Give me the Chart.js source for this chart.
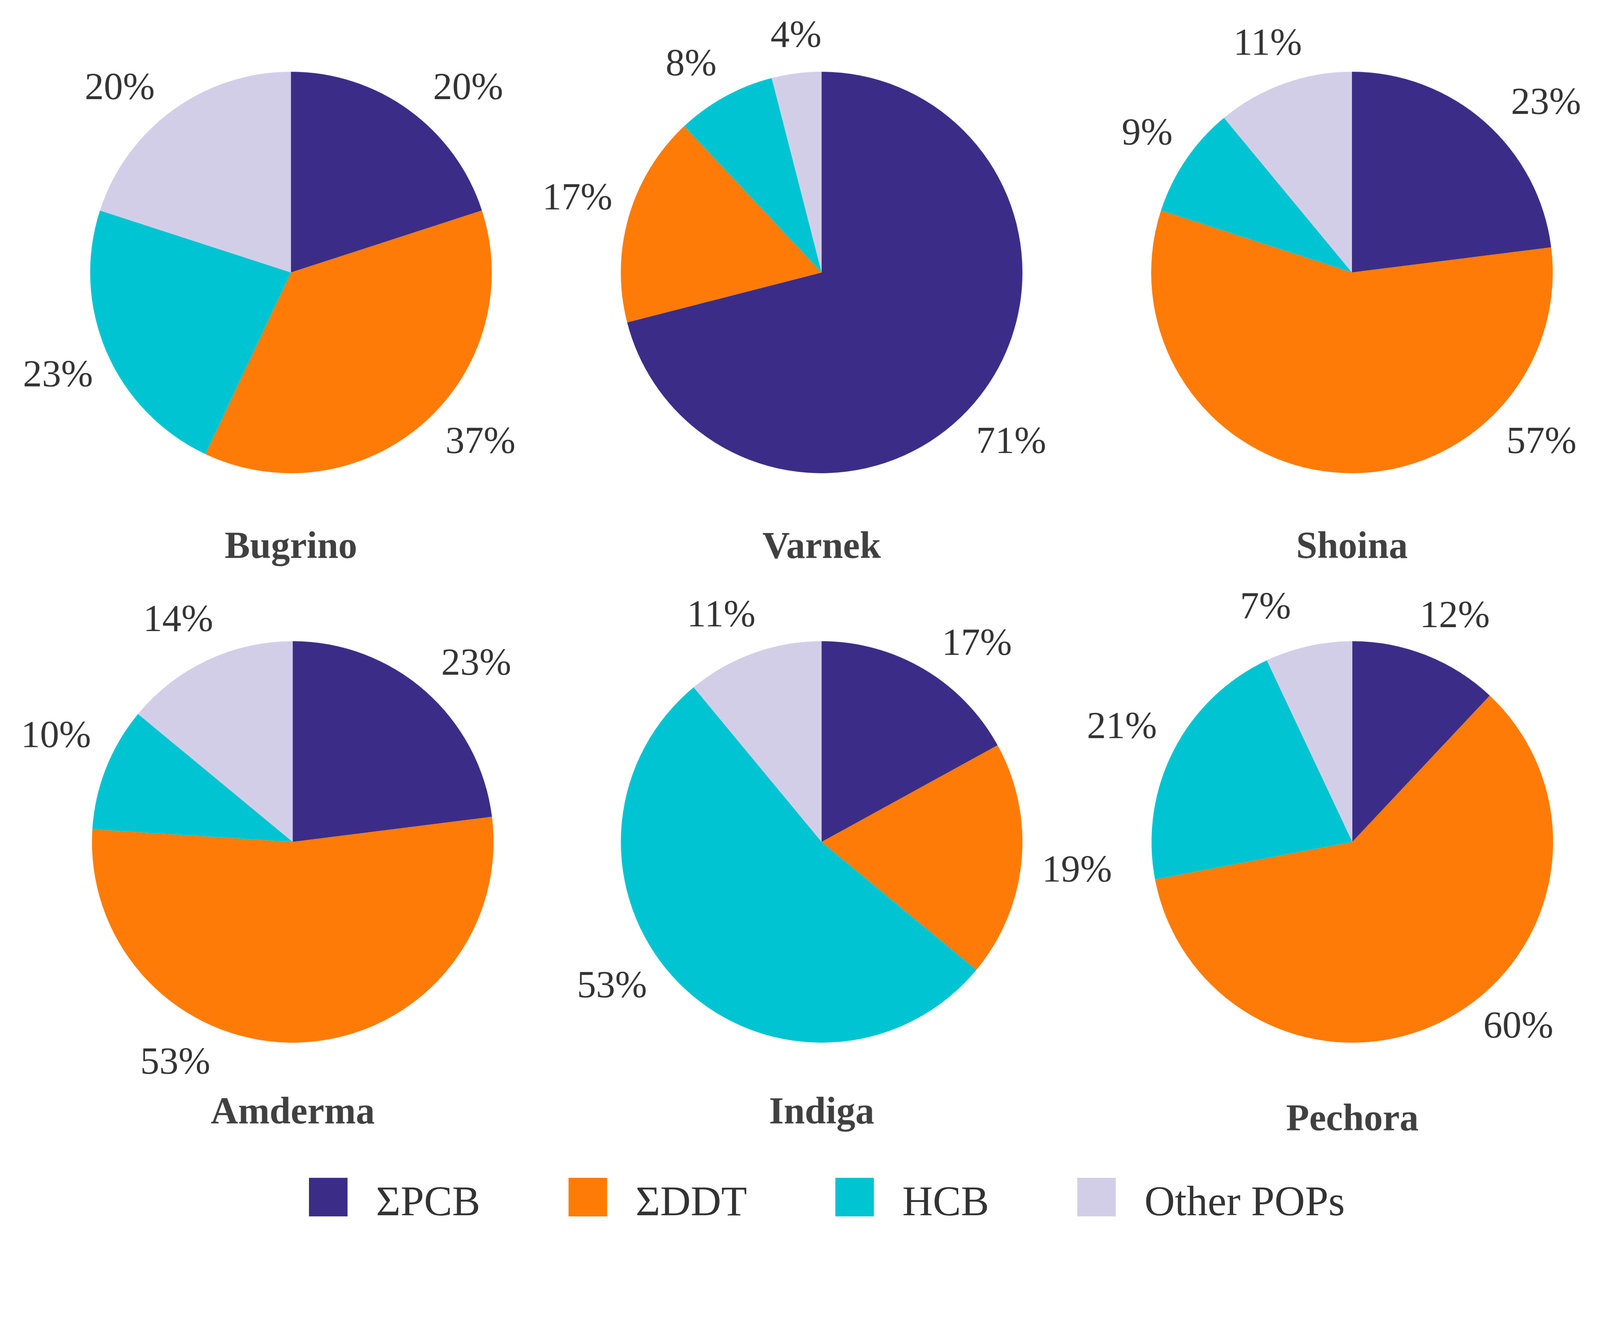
<html>

<head>
    <meta charset="utf-8">
    <title>POPs composition by site</title>
    <script src="https://cdn.jsdelivr.net/npm/chart.js"></script>
</head>

<style>
    html,
    body {
        margin: 0;
        background-color: #ffffff;
        overflow: hidden;
    }

    body {
        position: relative;
    }

    #page {
        position: absolute;
        left: 0;
        top: 0;
        width: 4438px;
        height: 3411px;
        transform-origin: 0 0;
        font-family: 'Liberation Serif', serif;
    }

    .pie {
        position: absolute;
    }

    #legend {
        position: absolute;
        left: 857px;
        top: 3252px;
        display: flex;
        align-items: center;
        color: #333333;
        font-size: 117px;
        line-height: 1;
    }

    .item {
        display: flex;
        align-items: center;
        margin-right: 245px;
    }

    .swatch {
        width: 107px;
        height: 107px;
        margin-right: 79px;
    }

    .item span {
        padding-top: 22px;
    }
</style>

<body>
    <div id="page">
        <div id="legend"></div>
    </div>

    <script>
        // categories and colours
        const categories = ['\u03A3PCB', '\u03A3DDT', 'HCB', 'Other POPs'];
        const colors = ['#3b2d87', '#ff7b07', '#00c4d2', '#d3cee8'];

        // sites and their shares (%)
        const sites = ['Bugrino', 'Varnek', 'Shoina', 'Amderma', 'Indiga', 'Pechora'];
        const bugrino = [20, 37, 23, 20];
        const varnek = [71, 17, 8, 4];
        const shoina = [23, 57, 9, 11];
        const amderma = [23, 53, 10, 14];
        const indiga = [17, 19, 53, 11];
        const pechora = [12, 60, 21, 7];
        const siteValues = [bugrino, varnek, shoina, amderma, indiga, pechora];

        // fit the 4438 x 3411 page into whatever the window really is
        const page = document.getElementById('page');
        const fit = Math.min(window.innerWidth / 4438, window.innerHeight / 3411);
        page.style.transform = 'scale(' + fit + ')';
        document.body.style.width = (4438 * fit) + 'px';
        document.body.style.height = (3411 * fit) + 'px';

        // panel layout: pie centre on the page, radius, room round it
        const R = 557;
        const PAD = 300;
        const centreX = [807, 2279, 3750, 812, 2279, 3751];
        const centreY = [756, 756, 756, 2336, 2336, 2336];
        const titleGap = [145, 145, 145, 134, 134, 153];

        // label nudges: degrees off the slice middle, distance as share of radius
        const labelShift = [
            [8, -6.6, -0.6, -7],
            [4.2, 0.5, -3.4, 1],
            [7.6, -53.4, -0.2, -0.5],
            [4.6, 29.7, 2.3, -2.2],
            [7.6, 1.2, 10.3, -4.2],
            [2.9, -13, -0.7, -7.8]
        ];
        const labelDist = [
            [1.27, 1.27, 1.27, 1.25],
            [1.27, 1.27, 1.22, 1.18],
            [1.28, 1.27, 1.23, 1.21],
            [1.27, 1.25, 1.29, 1.24],
            [1.25, 1.28, 1.27, 1.23],
            [1.23, 1.24, 1.28, 1.24]
        ];

        // draws the percentage next to each slice
        const pctLabels = {
            id: 'pctLabels',
            afterDatasetsDraw(chart, args, opts) {
                const ctx = chart.ctx;
                const meta = chart.getDatasetMeta(0);
                const values = chart.data.datasets[0].data;
                ctx.save();
                ctx.font = '106px "Liberation Serif"';
                ctx.fillStyle = '#333333';
                ctx.textAlign = 'center';
                ctx.textBaseline = 'middle';
                meta.data.forEach((arc, i) => {
                    const p = arc.getProps(['x', 'y', 'startAngle', 'endAngle', 'outerRadius'], true);
                    const a = (p.startAngle + p.endAngle) / 2 + opts.shift[i] * Math.PI / 180;
                    const r = p.outerRadius * opts.dist[i];
                    ctx.fillText(values[i] + '%', p.x + r * Math.cos(a), p.y + r * Math.sin(a));
                });
                ctx.restore();
            }
        };

        sites.forEach((site, k) => {
            const div = document.createElement('div');
            div.className = 'pie';
            div.style.left = (centreX[k] - PAD - R) + 'px';
            div.style.top = (centreY[k] - PAD - R) + 'px';
            const canvas = document.createElement('canvas');
            canvas.width = 2 * (PAD + R);
            canvas.height = PAD + 2 * R + titleGap[k] + 126 + 10 + 20;
            div.appendChild(canvas);
            page.appendChild(div);

            new Chart(canvas, {
                type: 'pie',
                data: {
                    labels: categories,
                    datasets: [{
                        data: siteValues[k],
                        backgroundColor: colors,
                        borderWidth: 0
                    }]
                },
                options: {
                    responsive: false,
                    animation: false,
                    layout: {
                        padding: { top: PAD, left: PAD, right: PAD, bottom: 20 }
                    },
                    plugins: {
                        legend: { display: false },
                        tooltip: { enabled: false },
                        title: {
                            display: true,
                            position: 'bottom',
                            text: site,
                            color: '#404040',
                            font: { family: 'Liberation Serif', size: 105, weight: 'bold' },
                            padding: { top: titleGap[k], bottom: 10 }
                        },
                        pctLabels: {
                            shift: labelShift[k],
                            dist: labelDist[k]
                        }
                    }
                },
                plugins: [pctLabels]
            });
        });

        // legend built from the same categories
        const legend = document.getElementById('legend');
        categories.forEach((name, i) => {
            const item = document.createElement('div');
            item.className = 'item';
            const sw = document.createElement('div');
            sw.className = 'swatch';
            sw.style.backgroundColor = colors[i];
            const txt = document.createElement('span');
            txt.textContent = name;
            item.appendChild(sw);
            item.appendChild(txt);
            legend.appendChild(item);
        });
    </script>
</body>

</html>
